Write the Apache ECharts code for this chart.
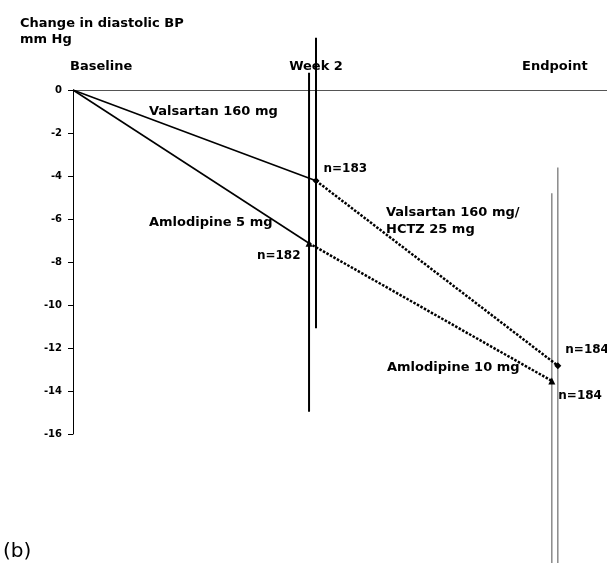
<!DOCTYPE html>
<html>
<head>
<meta charset="utf-8">
<script src="https://cdn.jsdelivr.net/npm/echarts@6/dist/echarts.min.js"></script>
<style>
html,body{margin:0;padding:0;background:#fff;}
#chart{width:607px;height:563px;}
</style>
</head>
<body>
<div id="chart"></div>
<script>
// ---- data ----
const timepoints = ['Baseline', 'Week 2', 'Endpoint'];
const valsartanX = [0, 2.025, 4.04];
const valsartanY = [0, -4.22, -12.82];
const valsartanHigh = [null, 2.43, -3.6];
const valsartanLow = [null, -11.08, -22.6];
const valsartanN = [null, 183, 184];
const amlodipineX = [0, 1.967, 3.99];
const amlodipineY = [0, -7.13, -13.53];
const amlodipineHigh = [null, 0.8, -4.8];
const amlodipineLow = [null, -14.96, -22.6];
const amlodipineN = [null, 182, 184];

// ---- layout / style config ----
const FONT = 'DejaVu Sans';
const timeLabelPos = [0.235, 2.025, 4.015];
const nLabelStyle = {
  valsartan: [null, {position: 'right', distance: 4, offset: [0, -12]}, {position: 'right', distance: 4, offset: [0, -16]}],
  amlodipine: [null, {position: 'left', distance: 5, offset: [0, 12.7]}, {position: 'right', distance: 3, offset: [0, 15]}]
};

function pts(xs, ys, from, to) {
  const out = [];
  for (let i = from; i <= to; i++) out.push([xs[i], ys[i]]);
  return out;
}
function labelledPts(xs, ys, ns, styles, from, to) {
  const out = [];
  for (let i = from; i <= to; i++) {
    const item = {value: [xs[i], ys[i]]};
    if (ns[i] != null) {
      item.label = Object.assign({
        show: true, formatter: 'n=' + ns[i], fontFamily: FONT, fontWeight: 'bold', fontSize: 12, color: '#000'
      }, styles[i]);
    }
    out.push(item);
  }
  return out;
}
function barData(idx) {
  return [
    [valsartanX[idx], valsartanLow[idx], valsartanHigh[idx]],
    [amlodipineX[idx], amlodipineLow[idx], amlodipineHigh[idx]]
  ];
}
function barSeries(idx, color, width) {
  return {
    type: 'custom', clip: false, z: 1, silent: true,
    data: barData(idx),
    encode: {x: 0, y: [1, 2]},
    renderItem: function (params, api) {
      const a = api.coord([api.value(0), api.value(2)]);
      const b = api.coord([api.value(0), api.value(1)]);
      return {type: 'line', shape: {x1: a[0], y1: a[1], x2: b[0], y2: b[1]},
        style: {stroke: color, lineWidth: width}};
    }
  };
}

const chart = echarts.init(document.getElementById('chart'), null, {renderer: 'canvas'});
chart.setOption({
  backgroundColor: '#fff',
  animation: false,
  grid: {left: 73, top: 90, right: 0, bottom: 129, containLabel: false},
  xAxis: {
    type: 'value', position: 'top', min: 0, max: 4.45,
    axisLine: {show: true, onZero: false, lineStyle: {color: '#555', width: 1}},
    axisTick: {show: false},
    splitLine: {show: false},
    axisLabel: {
      customValues: timeLabelPos,
      formatter: function (v, i) { return timepoints[timeLabelPos.indexOf(v)] || ''; },
      margin: 17, fontFamily: FONT, fontWeight: 'bold', fontSize: 13, color: '#000'
    }
  },
  yAxis: {
    type: 'value', min: -16, max: 0, interval: 2,
    axisLine: {show: true, lineStyle: {color: '#000', width: 1}},
    axisTick: {show: true, length: 5, lineStyle: {color: '#000'}},
    splitLine: {show: false},
    axisLabel: {margin: 11, fontFamily: FONT, fontWeight: 'bold', fontSize: 10, color: '#000'}
  },
  series: [
    barSeries(1, '#000', 2),
    barSeries(2, '#8a8a8a', 1.5),
    {type: 'line', z: 2, data: pts(valsartanX, valsartanY, 0, 1), symbol: 'none',
      lineStyle: {color: '#000', width: 1.6}},
    {type: 'line', z: 2, data: pts(amlodipineX, amlodipineY, 0, 1), symbol: 'none',
      lineStyle: {color: '#000', width: 1.6}},
    {type: 'line', z: 3, data: labelledPts(valsartanX, valsartanY, valsartanN, nLabelStyle.valsartan, 1, 2),
      symbol: 'diamond', symbolSize: 7, itemStyle: {color: '#000'},
      lineStyle: {color: '#000', width: 2.5, type: [2.5, 1.5]}},
    {type: 'line', z: 3, data: labelledPts(amlodipineX, amlodipineY, amlodipineN, nLabelStyle.amlodipine, 1, 2),
      symbol: 'triangle', symbolSize: 7, itemStyle: {color: '#000'},
      lineStyle: {color: '#000', width: 2.5, type: [2.5, 1.5]}}
  ],
  graphic: [
    {type: 'text', left: 20, top: 16, style: {text: 'Change in diastolic BP\nmm Hg', font: 'bold 13px "DejaVu Sans"', fill: '#000', lineHeight: 15.5}},
    {type: 'text', x: 149, y: 111.5, style: {text: 'Valsartan 160 mg', font: 'bold 13px "DejaVu Sans"', fill: '#000', verticalAlign: 'middle'}},
    {type: 'text', x: 149, y: 223, style: {text: 'Amlodipine 5 mg', font: 'bold 13px "DejaVu Sans"', fill: '#000', verticalAlign: 'middle'}},
    {type: 'text', x: 386, y: 212.5, style: {text: 'Valsartan 160 mg/', font: 'bold 13px "DejaVu Sans"', fill: '#000', verticalAlign: 'middle'}},
    {type: 'text', x: 386, y: 230, style: {text: 'HCTZ 25 mg', font: 'bold 13px "DejaVu Sans"', fill: '#000', verticalAlign: 'middle'}},
    {type: 'text', x: 387, y: 368, style: {text: 'Amlodipine 10 mg', font: 'bold 13px "DejaVu Sans"', fill: '#000', verticalAlign: 'middle'}},
    {type: 'text', x: 3, y: 552, style: {text: '(b)', font: '20px "DejaVu Sans"', fill: '#000', verticalAlign: 'middle'}}
  ]
});
</script>
</body>
</html>
